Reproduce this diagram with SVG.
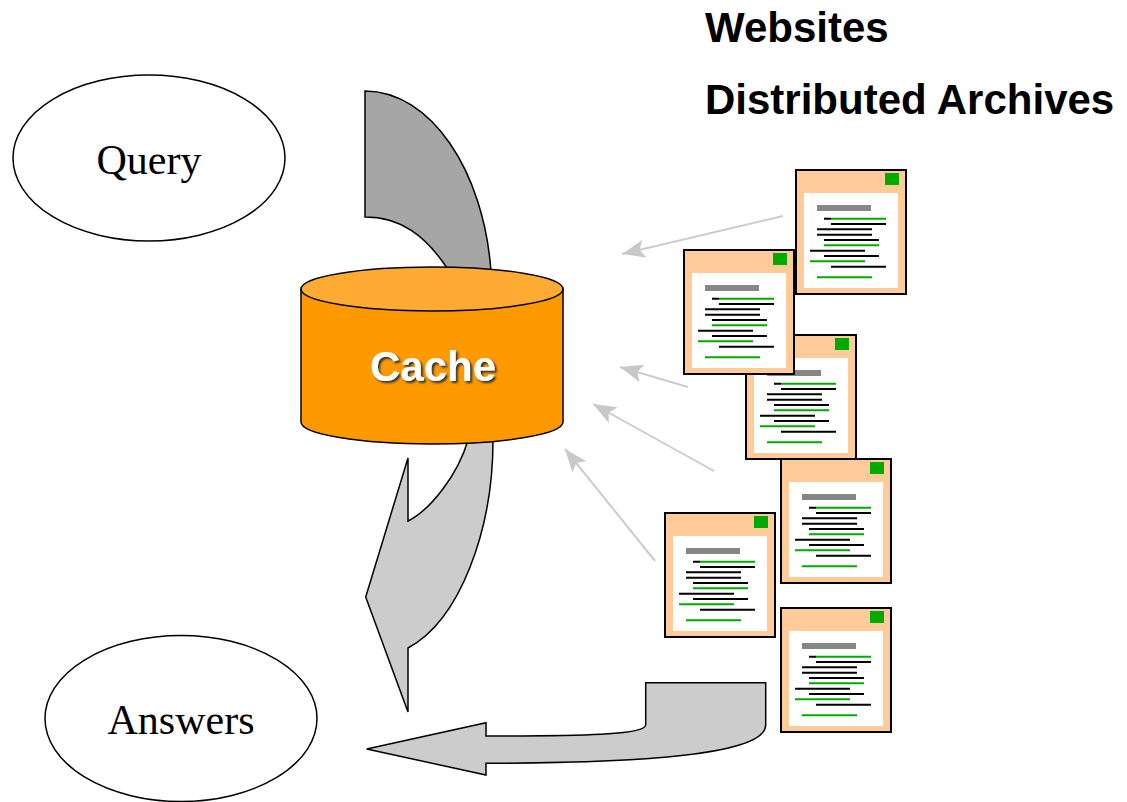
<svg xmlns="http://www.w3.org/2000/svg" xmlns:xlink="http://www.w3.org/1999/xlink" width="1127" height="802" viewBox="0 0 1127 802">
<style>
.ell{fill:#fff;stroke:#000;stroke-width:1.5}
.flow{stroke:#000;stroke-width:1.5;stroke-linejoin:miter}
.lbl{font-family:"Liberation Serif",serif;font-size:42px;text-anchor:middle;fill:#000}
.hd{font-family:"Liberation Sans",Arial,sans-serif;font-size:42px;font-weight:bold;fill:#000}
.ln{stroke-width:2;fill:none}
.k{stroke:#000}
.g{stroke:#00aa00}
.conn{stroke:#ccc;stroke-width:2;fill:none;marker-end:url(#ah)}
</style>
<defs>
<marker id="ah" markerUnits="userSpaceOnUse" markerWidth="26" markerHeight="20" refX="23" refY="9" orient="auto"><path d="M0,0L23,9L0,18L5,9z" fill="#c8c8c8"/></marker>
<filter id="sh" x="-10%" y="-20%" width="120%" height="140%"><feDropShadow dx="2" dy="2" stdDeviation="0.8" flood-color="#333"/></filter>
<g id="doc">
<rect x="0" y="0" width="110" height="124" fill="#ffcc99" stroke="#000" stroke-width="2"/>
<rect x="8" y="23" width="94" height="95" fill="#fff"/>
<rect x="89" y="3" width="14" height="12" fill="#00aa00"/>
<rect x="21" y="35" width="54" height="6" fill="#868686"/>
<path class="ln k" d="M28,48.7H35M35,54H90M21,59.3H76M21,64.7H76M28,70H83M14,80.7H69M28,86H83M35,96.7H90"/>
<path class="ln g" d="M35,48.7H90M28,75.3H83M14,91.3H69M21,107.3H76"/>
</g>
</defs>
<g id="connectors">
<line class="conn" x1="783" y1="216" x2="622" y2="254"/>
<line class="conn" x1="688" y1="387" x2="620" y2="367"/>
<line class="conn" x1="714" y1="471" x2="593" y2="404"/>
<line class="conn" x1="655" y1="561" x2="565" y2="449"/>
</g>
<g id="query"><ellipse class="ell" cx="149" cy="158" rx="136" ry="83"/><text class="lbl" x="149" y="174">Query</text></g>
<g id="answers"><ellipse class="ell" cx="181" cy="718.500" rx="136" ry="83"/><text class="lbl" x="181" y="734">Answers</text></g>
<g id="heading-websites"><text class="hd" x="705" y="42">Websites</text></g>
<g id="heading-archives"><text class="hd" x="705" y="114">Distributed Archives</text></g>
<g id="flow-in"><path class="flow" fill="#a6a6a6" d="M365,91C430,91 484,170 491,272L447,268C425,235 400,217 365,217Z"/></g>
<g id="flow-out"><path class="flow" fill="#cccccc" d="M408,458V521C430,510 458,475 468,440L493,440C493,530 460,620 408,648V712L365.700,597Z"/></g>
<g id="flow-answers"><path class="flow" fill="#cccccc" d="M645.700,682.700H765.700V725C766,755 640,763 486,763.300V775L366.700,749L486,722.700V736C580,736 646,735 645.700,725Z"/></g>
<g id="cache">
<path d="M301,289V422A131,22 0 0 0 563,422V289Z" fill="#ff9900" stroke="#000" stroke-width="1.5"/>
<ellipse cx="432" cy="289" rx="131" ry="22" fill="#ffaa33" stroke="#000" stroke-width="1.5"/>
<text x="433" y="381" font-family="'Liberation Sans',Arial,sans-serif" font-size="42" font-weight="bold" text-anchor="middle" fill="#fff" filter="url(#sh)">Cache</text>
</g>
<g id="doc1"><use xlink:href="#doc" href="#doc" x="796" y="170"/></g>
<g id="doc3"><use xlink:href="#doc" href="#doc" x="746" y="335"/></g>
<g id="doc2"><use xlink:href="#doc" href="#doc" x="684" y="250"/></g>
<g id="doc4"><use xlink:href="#doc" href="#doc" x="781" y="459"/></g>
<g id="doc5"><use xlink:href="#doc" href="#doc" x="665" y="513"/></g>
<g id="doc6"><use xlink:href="#doc" href="#doc" x="781" y="608"/></g>
</svg>
